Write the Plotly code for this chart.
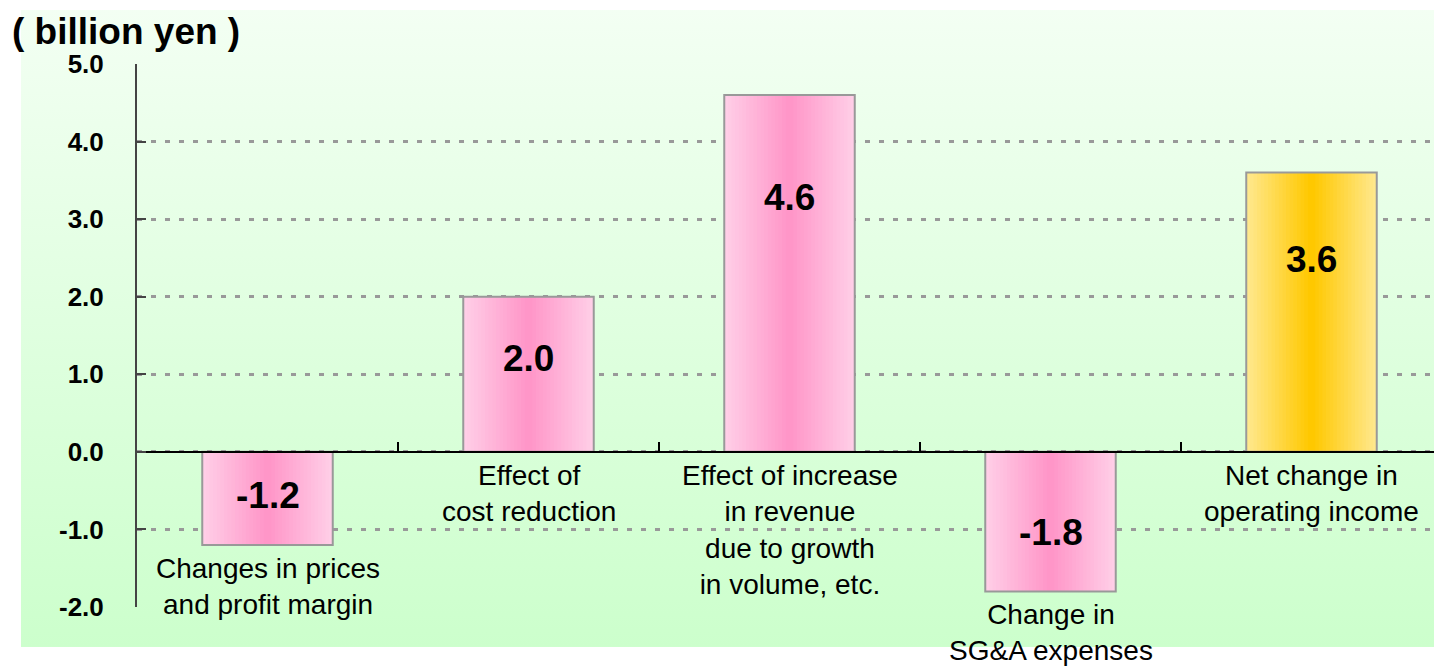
import base64
import plotly.graph_objects as go

# data
categories = [
    "Changes in prices<br>and profit margin",
    "Effect of<br>cost reduction",
    "Effect of increase<br>in revenue<br>due to growth<br>in volume, etc.",
    "Change in<br>SG&A expenses",
    "Net change in<br>operating income",
]
values = [-1.2, 2.0, 4.6, -1.8, 3.6]
value_text = ["-1.2", "2.0", "4.6", "-1.8", "3.6"]
y_ticks = [-2, -1, 0, 1, 2, 3, 4, 5]
y_tick_text = ["-2.0", "-1.0", "0.0", "1.0", "2.0", "3.0", "4.0", "5.0"]

FONT = "Liberation Sans, Arial, sans-serif"
pink = ((255, 206, 231), (255, 150, 200))
gold = ((255, 232, 140), (255, 200, 0))
bar_cols = [pink, pink, pink, pink, gold]
W = 0.5
N = 18


def mix(a, b, t):
    return "rgb(%d,%d,%d)" % tuple(round(a[i] + (b[i] - a[i]) * t) for i in range(3))


xs = list(range(len(values)))
fig = go.Figure()

# stepped horizontal gradient: stacked bars, narrower and darker towards the centre
for k in range(N):
    fig.add_trace(go.Bar(
        x=xs, y=values, width=W * (1 - k / N),
        marker=dict(color=[mix(c[0], c[1], k / (N - 1)) for c in bar_cols], line_width=0),
        hoverinfo="skip", showlegend=False,
    ))
# outline on top
fig.add_trace(go.Bar(
    x=xs, y=values, width=W,
    marker=dict(color="rgba(0,0,0,0)", line=dict(color="#999999", width=2)),
    hoverinfo="skip", showlegend=False,
))

# value labels inside bars, a bit below the bar end
for i, (v, t) in enumerate(zip(values, value_text)):
    sgn = 1 if v >= 0 else -1
    fig.add_annotation(x=i, y=sgn * (0.8 * abs(v) - 0.4), text=t, showarrow=False,
                       font=dict(family=FONT, size=37, color="black", weight="bold"))

# category labels below the bar / axis
for i, (v, c) in enumerate(zip(values, categories)):
    fig.add_annotation(x=i, y=min(v, 0), text=c, showarrow=False, yanchor="top",
                       yshift=-6, font=dict(family=FONT, size=28, color="black"))

fig.add_annotation(xref="paper", yref="paper", x=-0.097, y=1.06, xanchor="left",
                   yanchor="middle", text="( billion yen )", showarrow=False,
                   font=dict(family=FONT, size=37, color="black", weight="bold"))

# vertical green gradient background
svg = ('<svg xmlns="http://www.w3.org/2000/svg" width="100" height="100" preserveAspectRatio="none">'
       '<defs><linearGradient id="g" x1="0" y1="0" x2="0" y2="1">'
       '<stop offset="0" stop-color="#F3FFF3"/><stop offset="1" stop-color="#CCFFCC"/>'
       '</linearGradient></defs><rect width="100" height="100" fill="url(#g)"/></svg>')
src = "data:image/svg+xml;base64," + base64.b64encode(svg.encode()).decode()
fig.add_layout_image(source=src, xref="paper", yref="paper", x=-0.089, y=1.0994,
                     sizex=1.089, sizey=1.173, xanchor="left", yanchor="top",
                     sizing="stretch", layer="below")

# page body adds an 8px offset, so the figure is 8px smaller each way
fig.update_layout(
    width=1434, height=658,
    margin=dict(l=129, r=0, t=56, b=59),
    paper_bgcolor="white", plot_bgcolor="rgba(0,0,0,0)",
    barmode="overlay", showlegend=False,
    xaxis=dict(range=[-0.5, 4.5], anchor="free", position=2 / 7,
               showline=True, linecolor="black", linewidth=2,
               ticks="inside", tickvals=[0.5, 1.5, 2.5, 3.5], ticklen=9,
               tickwidth=2, tickcolor="black", showticklabels=False,
               showgrid=False, zeroline=False),
    yaxis=dict(range=[-2, 5], tickvals=y_ticks, ticktext=y_tick_text,
               showline=True, linecolor="#444444", linewidth=2,
               ticks="inside", ticklen=9, tickwidth=2, tickcolor="#444444",
               ticklabelstandoff=26,
               tickfont=dict(family=FONT, size=26, color="black", weight="bold"),
               showgrid=True, gridcolor="#999999", gridwidth=3, griddash="5px,9px",
               zeroline=False),
)

fig.write_html("out.html")
